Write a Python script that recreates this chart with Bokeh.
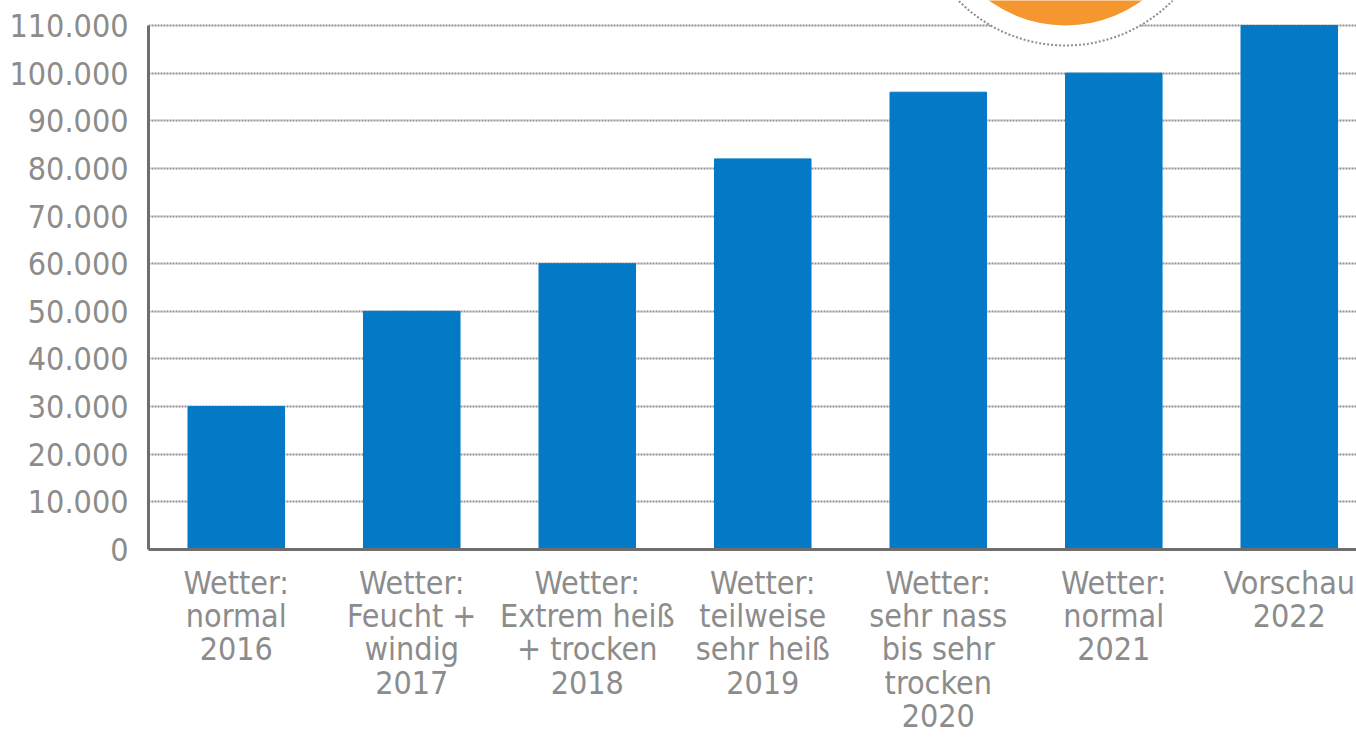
from bokeh.plotting import figure
from bokeh.models import FixedTicker, Range1d
from bokeh.embed import file_html
from bokeh.resources import INLINE

categories = [
    "Wetter:\nnormal\n2016",
    "Wetter:\nFeucht +\nwindig\n2017",
    "Wetter:\nExtrem heiß\n+ trocken\n2018",
    "Wetter:\nteilweise\nsehr heiß\n2019",
    "Wetter:\nsehr nass\nbis sehr\ntrocken\n2020",
    "Wetter:\nnormal\n2021",
    "Vorschau\n2022",
]
values = [30000, 50000, 60000, 82000, 96000, 100000, 110000]
y_ticks = [0, 10000, 20000, 30000, 40000, 50000, 60000, 70000, 80000, 90000, 100000, 110000]
y_tick_labels = ["0", "10.000", "20.000", "30.000", "40.000", "50.000", "60.000",
                 "70.000", "80.000", "90.000", "100.000", "110.000"]

FONT = "'DejaVu Sans Condensed', Roboto, sans-serif"
TEXT = "#8c8c8c"
AXIS = "#6e6e6e"

x = list(range(len(categories)))

p = figure(width=1356, height=738, output_backend="svg", toolbar_location=None,
           x_range=Range1d(-0.5, 6.383), y_range=Range1d(0, 115250),
           min_border_left=148, min_border_right=0, min_border_top=0, min_border_bottom=189)
p.outline_line_color = None
p.background_fill_color = "white"

# badge (decoration, partially outside the top)
bx = 4.725
by = 137300
p.scatter([bx], [by], size=300, fill_color="white", line_color="#8f8f8f",
          line_dash="2 2", line_width=2)
p.scatter([bx], [by], size=260, fill_color="#f6962f", line_color=None)

p.vbar(x=x, top=values, width=0.55, color="#0479c6")

# grid
p.xgrid.visible = False
p.ygrid.ticker = FixedTicker(ticks=y_ticks)
p.ygrid.grid_line_color = "#8f8f8f"
p.ygrid.grid_line_dash = "2 1"
p.ygrid.grid_line_width = 2
p.ygrid.level = "underlay"

# y axis
ya = p.yaxis[0]
ya.ticker = FixedTicker(ticks=y_ticks)
ya.major_label_overrides = {t: l for t, l in zip(y_ticks, y_tick_labels)}
ya.bounds = (0, 110000)
ya.axis_line_color = AXIS
ya.axis_line_width = 3
ya.major_tick_line_color = None
ya.minor_tick_line_color = None
ya.major_tick_out = 0
ya.major_tick_in = 0
ya.major_label_standoff = 20
ya.major_label_text_font = FONT
ya.major_label_text_font_size = "32px"
ya.major_label_text_color = TEXT

# x axis
xa = p.xaxis[0]
xa.ticker = FixedTicker(ticks=x)
xa.major_label_overrides = {i: c for i, c in zip(x, categories)}
xa.axis_line_color = AXIS
xa.axis_line_width = 3
xa.major_tick_line_color = None
xa.minor_tick_line_color = None
xa.major_tick_out = 0
xa.major_tick_in = 0
xa.major_label_standoff = 14
xa.major_label_text_font = FONT
xa.major_label_text_font_size = "32px"
xa.major_label_text_color = TEXT
xa.major_label_text_line_height = 0.88

open("out.html", "w").write(file_html(p, INLINE))
